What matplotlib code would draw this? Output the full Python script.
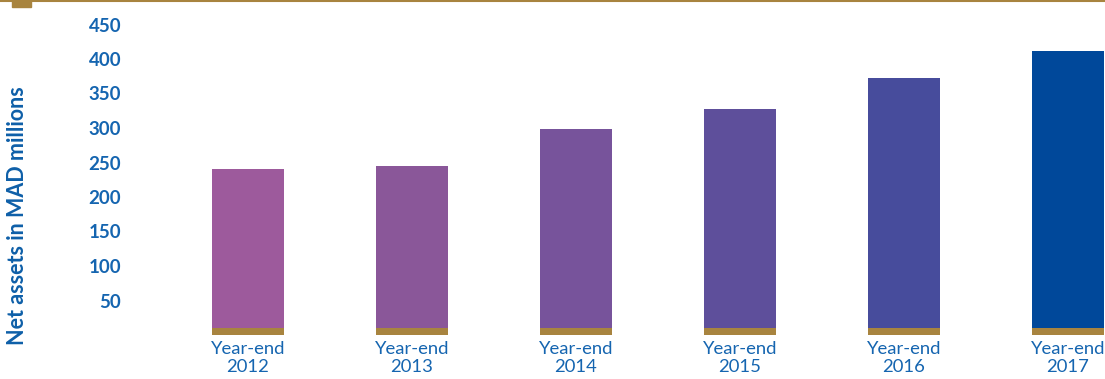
import matplotlib.pyplot as plt

years = ['2012', '2013', '2014', '2015', '2016', '2017']
net_assets = [240, 245, 298, 327, 372, 412]
base_band = 10  # gold strip at the foot of every bar
bar_colors = ['#9D5A9C', '#8A5799', '#77539B', '#5E4F9B', '#474C9C', '#00489A']
yticks = [50, 100, 150, 200, 250, 300, 350, 400, 450]

gold = '#A8843F'
blue = '#1565B0'

plt.rcParams['font.family'] = ['Lato', 'DejaVu Sans']

W, H = 1105, 379
fig = plt.figure(figsize=(W / 100, H / 100), dpi=100)

# axes placed in pixels: left 135, right 1105, bottom y=335 (value 0), top y=5
ax = fig.add_axes([135 / W, (H - 335) / H, (W - 135) / W, 330 / H])
x = list(range(len(years)))
ax.bar(x, [base_band] * len(x), width=0.44, color=gold)
ax.bar(x, [v - base_band for v in net_assets], bottom=base_band, width=0.44,
       color=bar_colors)

ax.set_xlim((135 - 248) / 164, (1105 - 248) / 164)
ax.set_ylim(0, 330 / 0.69)
ax.set_yticks(yticks)
ax.set_yticklabels([str(t) for t in yticks], fontsize=13.5, fontweight='bold',
                   color=blue)
ax.set_xticks(x)
ax.set_xticklabels(['Year-end\n' + y for y in years], fontsize=13.3,
                   color=blue, linespacing=1.2)
ax.tick_params(axis='y', length=0, pad=10)
ax.tick_params(axis='x', length=0, pad=4)
for s in ax.spines.values():
    s.set_visible(False)

fig.text(18 / W, 1 - 216 / H, 'Net assets in MAD millions', rotation=90,
         ha='center', va='center', fontsize=15.5, fontweight='bold', color='#0E5FA8')

# gold rule along the top with a small tab
fig.add_artist(plt.Line2D([0, 1], [1 - 1 / H, 1 - 1 / H], color=gold, lw=1.5))
fig.add_artist(plt.Rectangle((12 / W, 1 - 7 / H), 19 / W, 7 / H, color=gold))

fig.savefig('out.png', dpi=100)
